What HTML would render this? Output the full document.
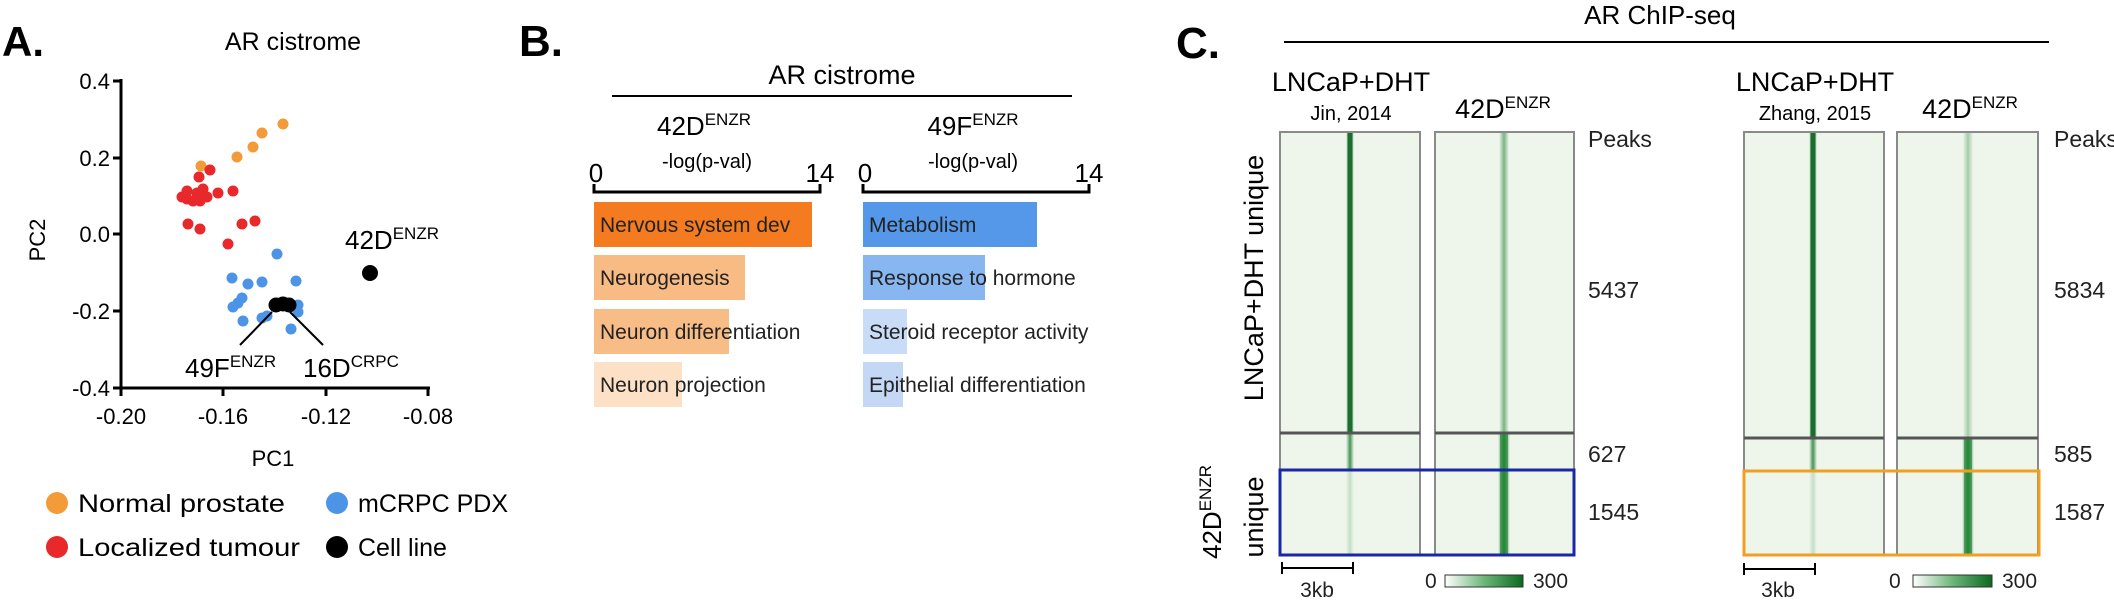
<!DOCTYPE html>
<html><head><meta charset="utf-8"><style>
html,body{margin:0;padding:0;background:#fff;}
svg{display:block;font-family:"Liberation Sans",sans-serif;}
</style></head><body>
<svg width="2114" height="606" viewBox="0 0 2114 606" xmlns="http://www.w3.org/2000/svg">
<defs>
<linearGradient id="cb" x1="0" x2="1" y1="0" y2="0"><stop offset="0" stop-color="#ffffff"/><stop offset="0.5" stop-color="#6db67a"/><stop offset="1" stop-color="#0a6a1e"/></linearGradient>
<linearGradient id="gs" x1="0" x2="1"><stop offset="0" stop-color="#1b7a2e" stop-opacity="0"/><stop offset="0.5" stop-color="#1b7a2e" stop-opacity="1"/><stop offset="1" stop-color="#1b7a2e" stop-opacity="0"/></linearGradient>
</defs>

<!-- Panel A -->
<text x="2" y="56" font-size="42" font-weight="bold">A.</text>
<text x="293" y="50" font-size="25" text-anchor="middle">AR cistrome</text>
<g stroke="#000" stroke-width="3" fill="none">
<line x1="121" y1="79" x2="121" y2="389"/>
<line x1="119.5" y1="388" x2="430" y2="388"/>
<line x1="113" y1="81" x2="121" y2="81"/><line x1="113" y1="158" x2="121" y2="158"/><line x1="113" y1="234" x2="121" y2="234"/><line x1="113" y1="311" x2="121" y2="311"/><line x1="113" y1="388" x2="121" y2="388"/>
<line x1="121" y1="388" x2="121" y2="396"/><line x1="223" y1="388" x2="223" y2="396"/><line x1="326" y1="388" x2="326" y2="396"/><line x1="428" y1="388" x2="428" y2="396"/>
</g>
<g font-size="22" text-anchor="end">
<text x="110" y="89">0.4</text><text x="110" y="166">0.2</text><text x="110" y="242">0.0</text><text x="110" y="319">-0.2</text><text x="110" y="396">-0.4</text>
</g>
<g font-size="22" text-anchor="middle">
<text x="121" y="424">-0.20</text><text x="223" y="424">-0.16</text><text x="326" y="424">-0.12</text><text x="428" y="424">-0.08</text>
</g>
<text x="273" y="466" font-size="22" text-anchor="middle">PC1</text>
<text transform="translate(45,240) rotate(-90)" font-size="22" text-anchor="middle">PC2</text>
<g fill="#f29b38">
<circle cx="283" cy="124" r="5.5"/><circle cx="262" cy="133" r="5.5"/><circle cx="253" cy="147" r="5.5"/><circle cx="237" cy="157" r="5.5"/><circle cx="201" cy="166" r="5.5"/>
</g>
<g fill="#e8282a">
<circle cx="210" cy="170" r="5.5"/><circle cx="199" cy="177" r="5.5"/><circle cx="187" cy="191" r="5.5"/><circle cx="203" cy="189" r="5.5"/><circle cx="218" cy="193" r="5.5"/><circle cx="233" cy="191" r="5.5"/><circle cx="187" cy="199" r="5.5"/><circle cx="193" cy="201" r="5.5"/><circle cx="200" cy="201" r="5.5"/><circle cx="207" cy="197" r="5.5"/><circle cx="188" cy="224" r="5.5"/><circle cx="200" cy="229" r="5.5"/><circle cx="242" cy="224" r="5.5"/><circle cx="255" cy="221" r="5.5"/><circle cx="228" cy="244" r="5.5"/><circle cx="182" cy="197" r="5.5"/><circle cx="197" cy="193" r="5.5"/>
</g>
<g fill="#4d94e6">
<circle cx="277" cy="254" r="5.5"/><circle cx="232" cy="278" r="5.5"/><circle cx="248" cy="284" r="5.5"/><circle cx="262" cy="282" r="5.5"/><circle cx="296" cy="281" r="5.5"/><circle cx="242" cy="298" r="5.5"/><circle cx="238" cy="303" r="5.5"/><circle cx="233" cy="307" r="5.5"/><circle cx="243" cy="321" r="5.5"/><circle cx="262" cy="318" r="5.5"/><circle cx="267" cy="316" r="5.5"/><circle cx="298" cy="305" r="5.5"/><circle cx="298" cy="312" r="5.5"/><circle cx="291" cy="329" r="5.5"/>
</g>
<g fill="#000">
<circle cx="276" cy="305" r="7.5"/><circle cx="283" cy="304" r="7.5"/><circle cx="289" cy="305" r="7.5"/><circle cx="370" cy="273" r="8"/>
</g>
<g stroke="#000" stroke-width="2"><line x1="272" y1="312" x2="240" y2="345"/><line x1="290" y1="312" x2="323" y2="345"/></g>
<text x="345" y="249" font-size="26">42D<tspan font-size="17" dy="-10">ENZR</tspan></text>
<text x="185" y="377" font-size="26">49F<tspan font-size="17" dy="-10">ENZR</tspan></text>
<text x="303" y="377" font-size="26">16D<tspan font-size="17" dy="-10">CRPC</tspan></text>
<circle cx="57" cy="503" r="11" fill="#f29b38"/><circle cx="57" cy="547" r="11" fill="#e8282a"/>
<circle cx="337" cy="503" r="11" fill="#4d94e6"/><circle cx="337" cy="547" r="11" fill="#000"/>
<g font-size="25">
<text x="78" y="512" textLength="207" lengthAdjust="spacingAndGlyphs">Normal prostate</text>
<text x="78" y="556" textLength="222" lengthAdjust="spacingAndGlyphs">Localized tumour</text>
<text x="358" y="512">mCRPC PDX</text>
<text x="358" y="556">Cell line</text>
</g>

<!-- Panel B -->
<text x="519" y="56" font-size="44" font-weight="bold">B.</text>
<text x="842" y="84" font-size="27" text-anchor="middle">AR cistrome</text>
<line x1="612" y1="96" x2="1072" y2="96" stroke="#000" stroke-width="2"/>
<text x="704" y="135" font-size="26" text-anchor="middle">42D<tspan font-size="17" dy="-10">ENZR</tspan></text>
<text x="973" y="135" font-size="26" text-anchor="middle">49F<tspan font-size="17" dy="-10">ENZR</tspan></text>
<text x="707" y="168" font-size="20" text-anchor="middle">-log(p-val)</text>
<text x="973" y="168" font-size="20" text-anchor="middle">-log(p-val)</text>
<g font-size="26" text-anchor="middle">
<text x="596" y="182">0</text><text x="820" y="182">14</text>
<text x="865" y="182">0</text><text x="1089" y="182">14</text>
</g>
<g stroke="#000" stroke-width="3" fill="none">
<polyline points="594,184 594,192 820,192 820,184"/>
<polyline points="863,184 863,192 1089,192 1089,184"/>
</g>
<rect x="594" y="202" width="218" height="45" fill="#f47b20"/>
<rect x="594" y="255" width="151" height="45" fill="#f8bb84"/>
<rect x="594" y="309" width="135" height="45" fill="#f8bd86"/>
<rect x="594" y="362" width="88" height="45" fill="#fde1c6"/>
<rect x="863" y="202" width="174" height="45" fill="#5597e8"/>
<rect x="863" y="255" width="122" height="45" fill="#88b6f0"/>
<rect x="863" y="309" width="44" height="45" fill="#c8dcf7"/>
<rect x="863" y="362" width="40" height="45" fill="#c4d8f5"/>
<g font-size="21" fill="#222">
<text x="600" y="232">Nervous system dev</text>
<text x="600" y="285">Neurogenesis</text>
<text x="600" y="339">Neuron differentiation</text>
<text x="600" y="392">Neuron projection</text>
<text x="869" y="232">Metabolism</text>
<text x="869" y="285">Response to hormone</text>
<text x="869" y="339">Steroid receptor activity</text>
<text x="869" y="392">Epithelial differentiation</text>
</g>

<!-- Panel C -->
<text x="1176" y="58" font-size="44" font-weight="bold">C.</text>
<text x="1660" y="24" font-size="26" text-anchor="middle">AR ChIP-seq</text>
<line x1="1284" y1="42" x2="2049" y2="42" stroke="#000" stroke-width="2"/>
<text x="1351" y="91" font-size="27" text-anchor="middle">LNCaP+DHT</text>
<text x="1351" y="120" font-size="20" text-anchor="middle">Jin, 2014</text>
<text x="1503" y="118" font-size="27" text-anchor="middle">42D<tspan font-size="17" dy="-10">ENZR</tspan></text>
<text x="1815" y="91" font-size="27" text-anchor="middle">LNCaP+DHT</text>
<text x="1815" y="120" font-size="20" text-anchor="middle">Zhang, 2015</text>
<text x="1970" y="118" font-size="27" text-anchor="middle">42D<tspan font-size="17" dy="-10">ENZR</tspan></text>

<text transform="translate(1263,278) rotate(-90)" font-size="27" text-anchor="middle">LNCaP+DHT unique</text>
<text transform="translate(1221,512) rotate(-90)" font-size="26" text-anchor="middle">42D<tspan font-size="17" dy="-10">ENZR</tspan></text>
<text transform="translate(1263,517) rotate(-90)" font-size="27" text-anchor="middle">unique</text>

<!-- heatmap columns -->
<g fill="#eef6ec" stroke="#8a8a8a" stroke-width="2">
<rect x="1280" y="132" width="140" height="423"/>
<rect x="1435" y="132" width="139" height="423"/>
<rect x="1744" y="132" width="140" height="423"/>
<rect x="1897" y="132" width="141" height="423"/>
</g>
<!-- stripes -->
<rect x="1346" y="133" width="8" height="300" fill="url(#gs)"/>
<rect x="1347.5" y="133" width="5" height="300" fill="#1c6e2e"/>
<rect x="1346" y="434" width="8" height="36" fill="url(#gs)" opacity="0.8"/>
<rect x="1346" y="470" width="8" height="84" fill="url(#gs)" opacity="0.2"/>
<rect x="1499" y="133" width="10" height="300" fill="url(#gs)" opacity="0.55"/>
<rect x="1498" y="434" width="12" height="120" fill="url(#gs)"/>
<rect x="1500" y="434" width="8" height="120" fill="#2a8a3c" opacity="0.7"/>
<rect x="1809" y="133" width="8" height="305" fill="url(#gs)"/>
<rect x="1810.5" y="133" width="5" height="305" fill="#1c6e2e"/>
<rect x="1809" y="439" width="8" height="32" fill="url(#gs)" opacity="0.8"/>
<rect x="1809" y="471" width="8" height="84" fill="url(#gs)" opacity="0.2"/>
<rect x="1963" y="133" width="10" height="305" fill="url(#gs)" opacity="0.35"/>
<rect x="1962" y="439" width="12" height="115" fill="url(#gs)"/>
<rect x="1964" y="439" width="8" height="115" fill="#2a8a3c" opacity="0.7"/>
<!-- dividers -->
<g stroke="#555" stroke-width="3">
<line x1="1280" y1="433" x2="1420" y2="433"/><line x1="1435" y1="433" x2="1574" y2="433"/>
<line x1="1744" y1="438" x2="1884" y2="438"/><line x1="1897" y1="438" x2="2038" y2="438"/>
</g>
<rect x="1280" y="470" width="294" height="85" fill="none" stroke="#1a28a6" stroke-width="3"/>
<rect x="1744" y="471" width="295" height="84" fill="none" stroke="#efa022" stroke-width="3"/>

<g font-size="23" fill="#222">
<text x="1588" y="147">Peaks</text><text x="1588" y="298">5437</text><text x="1588" y="462">627</text><text x="1588" y="520">1545</text>
<text x="2054" y="147">Peaks</text><text x="2054" y="298">5834</text><text x="2054" y="462">585</text><text x="2054" y="520">1587</text>
</g>
<g stroke="#000" stroke-width="2">
<line x1="1282" y1="568" x2="1353" y2="568"/><line x1="1282" y1="562" x2="1282" y2="574"/><line x1="1353" y1="562" x2="1353" y2="574"/>
<line x1="1744" y1="569" x2="1815" y2="569"/><line x1="1744" y1="563" x2="1744" y2="575"/><line x1="1815" y1="563" x2="1815" y2="575"/>
</g>
<g font-size="21" fill="#222" text-anchor="middle">
<text x="1317" y="597">3kb</text><text x="1778" y="597">3kb</text>
</g>
<g font-size="21" fill="#222">
<text x="1425" y="588">0</text><text x="1533" y="588">300</text>
<text x="1889" y="588">0</text><text x="2002" y="588">300</text>
</g>
<rect x="1445" y="575" width="78" height="12" fill="url(#cb)" stroke="#333" stroke-width="1"/>
<rect x="1913" y="575" width="79" height="12" fill="url(#cb)" stroke="#333" stroke-width="1"/>
</svg>
</body></html>
